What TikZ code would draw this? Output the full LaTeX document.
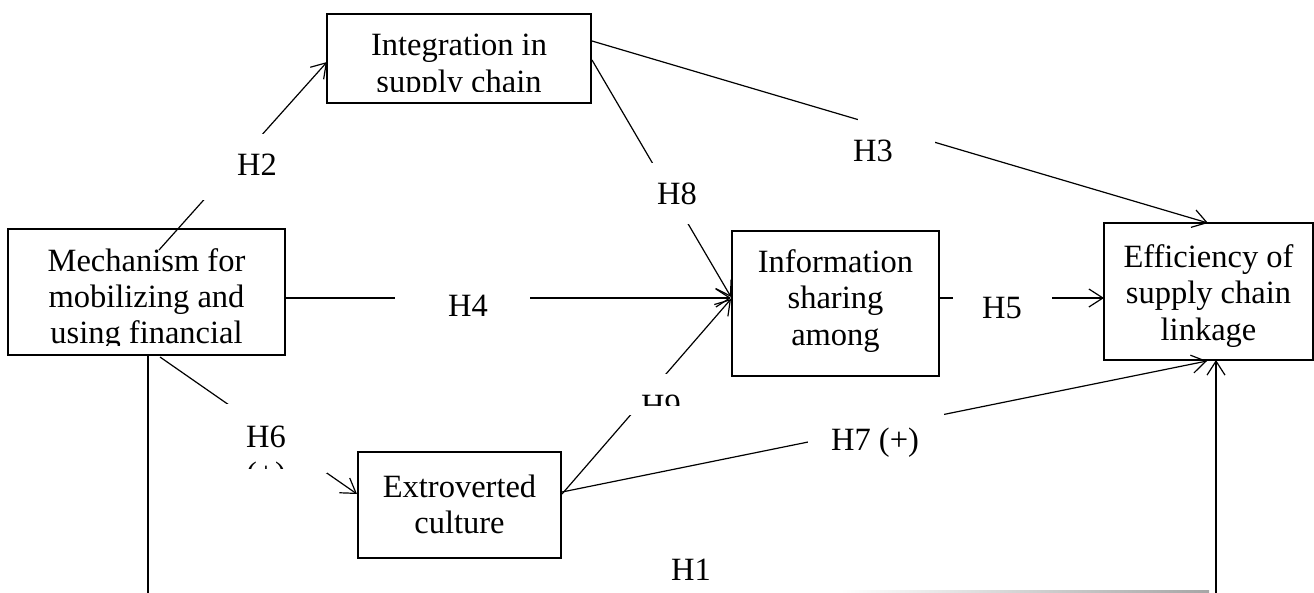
\documentclass[tikz,border=0pt]{standalone}
\usepackage{fontspec}
\setmainfont{Liberation Serif}
\usetikzlibrary{arrows.meta}
\begin{document}
\begin{tikzpicture}[x=1pt,y=-1pt,
  boxnode/.style={draw, line width=2.6pt, rectangle, inner sep=0pt},
  txt/.style={font=\fontsize{32.5}{37}\selectfont, inner sep=0pt, anchor=base},
  conn/.style={line width=1.2pt},
  arr/.style={conn, -{Straight Barb[length=14pt,width=18pt,line width=1.2pt]}},
  gap/.style={fill=white, draw=none, inner sep=0pt}]
\clip (0,0) rectangle (1314,592);
\fill[white] (0,0) rectangle (1314,592);

% ---------- boxes ----------
\node[boxnode, minimum width=264pt, minimum height=89pt] (int) at (459,58.5) {};
\node[boxnode, minimum width=277pt, minimum height=126pt] (mech) at (146.5,292) {};
\node[boxnode, minimum width=207pt, minimum height=145pt] (info) at (835.5,303.5) {};
\node[boxnode, minimum width=209pt, minimum height=137pt] (eff) at (1208.5,291.5) {};
\node[boxnode, minimum width=203pt, minimum height=106pt] (ext) at (459.5,505) {};

% ---------- box texts ----------
\begin{scope}
  \clip (329,16) rectangle (589,91);
  \node[txt] (intA) at (459,55) {Integration in};
  \node[txt] (intB) at (459,92) {supply chain};
\end{scope}
\begin{scope}
  \clip (10,231) rectangle (283,345);
  \node[txt] (mechA) at (146.5,271.5) {Mechanism for};
  \node[txt] (mechB) at (146.5,307.5) {mobilizing and};
  \node[txt] (mechC) at (146.5,343.5) {using financial};
\end{scope}
\node[txt] (infoA) at (835.5,272) {Information};
\node[txt] (infoB) at (835.5,308.5) {sharing};
\node[txt] (infoC) at (835.5,345) {among};
\begin{scope}
  \clip (1106,225) rectangle (1311,350);
  \node[txt] (effA) at (1208.5,267) {Efficiency of};
  \node[txt] (effB) at (1208.5,303.5) {supply chain};
  \node[txt] (effC) at (1208.5,340) {linkage};
\end{scope}
\node[txt] (extA) at (459.5,497) {Extroverted};
\node[txt] (extB) at (459.5,533) {culture};

% ---------- connector end points ----------
\coordinate (h2s) at (159,250);   \coordinate (h2e) at (327,62);
\coordinate (h3s) at (592,41);    \coordinate (h3e) at (1208,223);
\coordinate (h8s) at (592,60);    \coordinate (h8e) at (731,297);
\coordinate (h4s) at (285,298);   \coordinate (h4e) at (731,298);
\coordinate (h9s) at (562,494);   \coordinate (h9e) at (731,299);
\coordinate (h5s) at (939,298);   \coordinate (h5e) at (1104,298);
\coordinate (h6s) at (160,357);   \coordinate (h6e) at (357,494);
\coordinate (h7s) at (562,492);   \coordinate (h7e) at (1207,361);
\coordinate (h1s) at (148,355);   \coordinate (h1a) at (148,600);
\coordinate (h1b) at (1216,600);  \coordinate (h1e) at (1216,360);

% ---------- connectors ----------
\draw[arr] (h2s) -- (h2e);
\draw[arr] (h3s) -- (h3e);
\draw[arr] (h8s) -- (h8e);
\draw[arr] (h4s) -- (h4e);
\draw[arr] (h9s) -- (h9e);
\draw[arr] (h5s) -- (h5e);
\draw[arr] (h6s) -- (h6e);
\draw[arr] (h7s) -- (h7e);
\draw[arr] (h1s) -- (h1a) -- (h1b) -- (h1e);
\shade[left color=white, right color=black!35] (840,590.8) rectangle (1209,592);

% ---------- label boxes (white, covering the lines) ----------
\node[gap, minimum width=125pt, minimum height=66pt] (gH2) at (257.5,167) {};
\node[gap, minimum width=77pt, minimum height=65pt] (gH3) at (896.5,137.5) {};
\node[gap, minimum width=75pt, minimum height=61pt] (gH8) at (677.5,193.5) {};
\node[gap, minimum width=135pt, minimum height=48pt] (gH4) at (462.5,306) {};
\node[gap, minimum width=99pt, minimum height=48pt] (gH5) at (1002.5,306) {};
\node[gap, minimum width=122pt, minimum height=69pt] (gH6) at (266,438.5) {};
\node[gap, minimum width=80pt, minimum height=41pt] (gH9) at (660,394.5) {};
\node[gap, minimum width=136pt, minimum height=60pt] (gH7) at (876,435) {};

% ---------- labels ----------
\node[txt] (lH2) at (257,175.5) {H2};
\node[txt] (lH3) at (873,161.5) {H3};
\node[txt] (lH8) at (677,204) {H8};
\node[txt] (lH4) at (468,316) {H4};
\node[txt] (lH5) at (1002,318.5) {H5};
\begin{scope}
  \clip (205,404) rectangle (327,468);
  \node[txt] (lH6) at (266,447) {H6};
  \node[txt] (lH6s) at (266,484) {(+)};
\end{scope}
\begin{scope}
  \clip (620,374) rectangle (700,405);
  \node[txt] (lH9) at (661,416.5) {H9};
\end{scope}
\node[txt] (lH7) at (875,450) {H7 (+)};
\node[txt] (lH1) at (691,580) {H1};
\end{tikzpicture}
\end{document}
